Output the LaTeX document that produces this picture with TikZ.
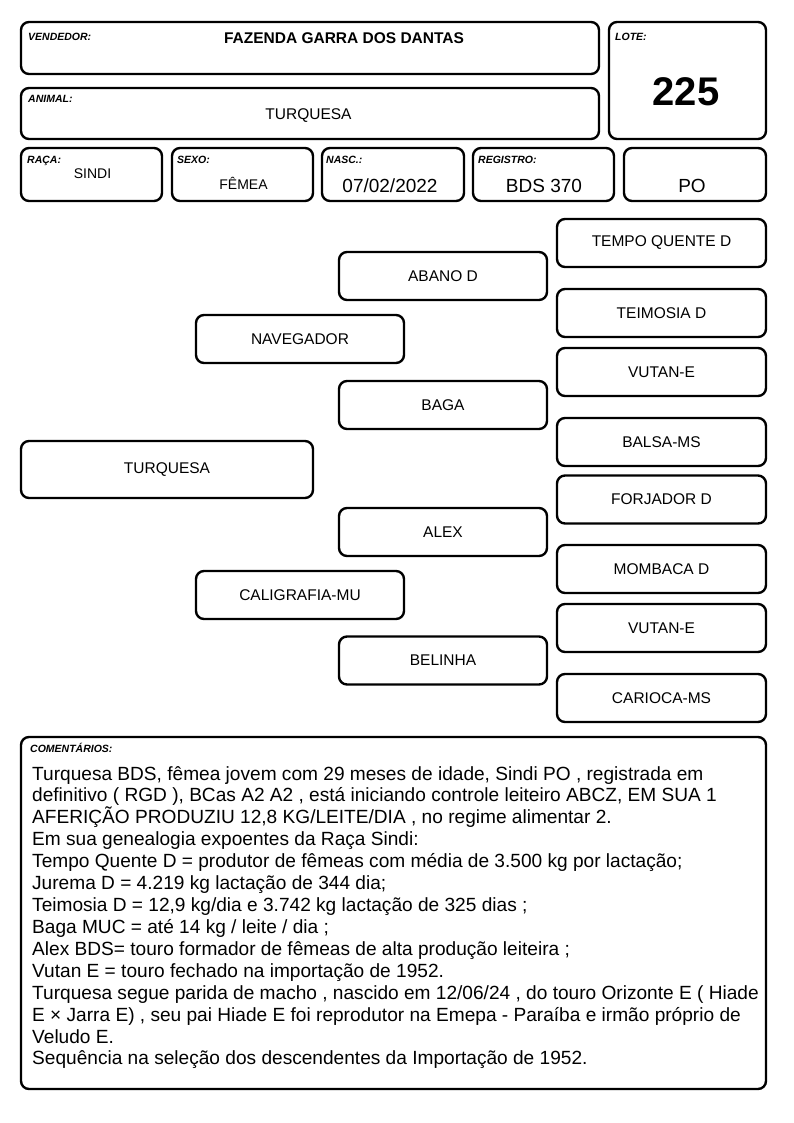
\documentclass[tikz,border=0pt]{standalone}
\usepackage{fontspec}
\setmainfont{Liberation Sans}

\begin{document}
\begin{tikzpicture}[
    x=1bp, y=-1bp,
    line join=round,
    frame/.style={draw, line width=2.4bp, rounded corners=8bp, inner sep=0pt},
    tag/.style={anchor=base west, inner sep=0pt, font=\fontsize{10.5bp}{12bp}\selectfont\bfseries\itshape},
    value/.style={anchor=base, inner sep=0pt, font=\fontsize{15.5bp}{18bp}\selectfont},
    bigvalue/.style={value, font=\fontsize{19bp}{22bp}\selectfont},
    animal/.style={frame, minimum width=208bp, minimum height=48bp, font=\fontsize{15.5bp}{18bp}\selectfont},
    note/.style={anchor=base west, inner sep=0pt, font=\fontsize{19.1bp}{22bp}\selectfont}
]

    \useasboundingbox (0,0) rectangle (794,1123);

    % --- HEADER ---

    % Boxes
    \node[frame, minimum width=578bp, minimum height=52bp] (vendedor) at (310,48) {};
    \node[frame, minimum width=157bp, minimum height=117bp] (lote) at (687.5,80.5) {};
    \node[frame, minimum width=578bp, minimum height=51bp] (animal) at (310,113.5) {};
    \node[frame, minimum width=141bp, minimum height=53bp] (raca) at (91.5,174.5) {};
    \node[frame, minimum width=141bp, minimum height=53bp] (sexo) at (242.5,174.5) {};
    \node[frame, minimum width=142bp, minimum height=53bp] (nasc) at (393,174.5) {};
    \node[frame, minimum width=141bp, minimum height=53bp] (registro) at (543.5,174.5) {};
    \node[frame, minimum width=142bp, minimum height=53bp] (po) at (695,174.5) {};

    % Field names
    \node[tag] (vendedor_tag) at (28,40) {VENDEDOR:};
    \node[tag] (lote_tag) at (615,40) {LOTE:};
    \node[tag] (animal_tag) at (28,102) {ANIMAL:};
    \node[tag] (raca_tag) at (27,163) {RAÇA:};
    \node[tag] (sexo_tag) at (177,163) {SEXO:};
    \node[tag] (nasc_tag) at (326,163) {NASC.:};
    \node[tag] (registro_tag) at (478,163) {REGISTRO:};

    % Field values
    \node[value, font=\fontsize{15.5bp}{18bp}\selectfont\bfseries] (vendedor_val) at (344,43) {FAZENDA GARRA DOS DANTAS};
    \node[value, font=\fontsize{40bp}{44bp}\selectfont\bfseries] (lote_val) at (686,105) {225};
    \node[value] (animal_val) at (308.5,119) {TURQUESA};
    \node[value, font=\fontsize{14bp}{16bp}\selectfont] (raca_val) at (92.5,178) {SINDI};
    \node[value, font=\fontsize{14bp}{16bp}\selectfont] (sexo_val) at (243.5,189) {FÊMEA};
    \node[bigvalue] (nasc_val) at (390,192) {07/02/2022};
    \node[bigvalue] (registro_val) at (544,192) {BDS 370};
    \node[bigvalue] (po_val) at (692,192) {PO};

    % --- PEDIGREE ---

    % Animal
    \node[animal, minimum width=292bp, minimum height=57bp] (t_turquesa) at (167,469.5) {TURQUESA};

    % Parents
    \node[animal] (p_navegador) at (300,339) {NAVEGADOR};
    \node[animal] (p_caligrafia) at (300,595) {CALIGRAFIA-MU};

    % Grandparents
    \node[animal] (a_abano) at (443,276) {ABANO D};
    \node[animal] (a_baga) at (443,405) {BAGA};
    \node[animal] (a_alex) at (443,532) {ALEX};
    \node[animal] (a_belinha) at (443,660.5) {BELINHA};

    % Great-grandparents
    \node[animal, minimum width=209bp] (b_tempo) at (661.5,243) {TEMPO QUENTE D};
    \node[animal, minimum width=209bp] (b_teimosia) at (661.5,313) {TEIMOSIA D};
    \node[animal, minimum width=209bp] (b_vutan1) at (661.5,372) {VUTAN-E};
    \node[animal, minimum width=209bp] (b_balsa) at (661.5,442) {BALSA-MS};
    \node[animal, minimum width=209bp] (b_forjador) at (661.5,499.5) {FORJADOR D};
    \node[animal, minimum width=209bp] (b_mombaca) at (661.5,569) {MOMBACA D};
    \node[animal, minimum width=209bp] (b_vutan2) at (661.5,628) {VUTAN-E};
    \node[animal, minimum width=209bp] (b_carioca) at (661.5,698) {CARIOCA-MS};

    % --- COMMENTS ---

    \node[frame, minimum width=745bp, minimum height=352bp] (comentarios) at (393.5,913) {};
    \node[tag] (comentarios_tag) at (30,752.5) {COMENTÁRIOS:};

    \foreach \txt [count=\i from 0] in {
        {Turquesa BDS, fêmea jovem com 29 meses de idade, Sindi PO , registrada em},
        {definitivo ( RGD ), BCas A2 A2 , está iniciando controle leiteiro ABCZ, EM SUA 1},
        {AFERIÇÃO PRODUZIU 12,8 KG/LEITE/DIA , no regime alimentar 2.},
        {Em sua genealogia expoentes da Raça Sindi:},
        {Tempo Quente D = produtor de fêmeas com média de 3.500 kg por lactação;},
        {Jurema D = 4.219 kg lactação de 344 dia;},
        {Teimosia D = 12,9 kg/dia e 3.742 kg lactação de 325 dias ;},
        {Baga MUC = até 14 kg / leite / dia ;},
        {Alex BDS= touro formador de fêmeas de alta produção leiteira ;},
        {Vutan E = touro fechado na importação de 1952.},
        {Turquesa segue parida de macho , nascido em 12/06/24 , do touro Orizonte E ( Hiade},
        {E × Jarra E) , seu pai Hiade E foi reprodutor na Emepa - Paraíba e irmão próprio de},
        {Veludo E.},
        {Sequência na seleção dos descendentes da Importação de 1952.}
    }
        \node[note] (c\i) at (32, 780 + 21.92*\i) {\txt};

\end{tikzpicture}
\end{document}
